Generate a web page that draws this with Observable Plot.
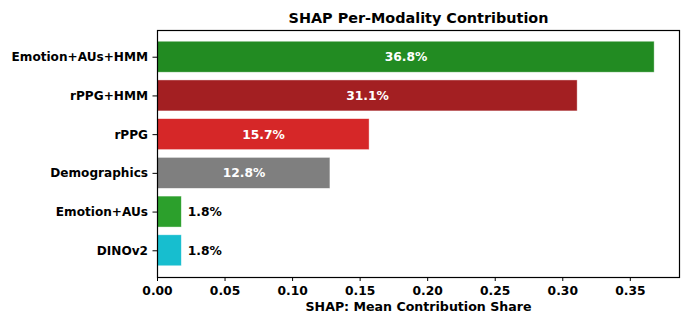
<!DOCTYPE html>
<html>
<head>
<meta charset="utf-8">
<script src="https://cdn.jsdelivr.net/npm/d3@7"></script>
<script src="https://cdn.jsdelivr.net/npm/@observablehq/plot@0.6"></script>
<style>
  html, body { margin: 0; padding: 0; background: #fff; }
  svg { font-family: "DejaVu Sans", sans-serif; }
</style>
</head>
<body>
<div id="chart"></div>
<script>
const modalities = ["Emotion+AUs+HMM", "rPPG+HMM", "rPPG", "Demographics", "Emotion+AUs", "DINOv2"];
const shares = [0.368, 0.311, 0.157, 0.128, 0.018, 0.018];
const colors = ["#228b22", "#a31f22", "#d62728", "#7f7f7f", "#2ca02c", "#17becf"];
const xTicks = [0, 0.05, 0.10, 0.15, 0.20, 0.25, 0.30, 0.35];
const title = "SHAP Per-Modality Contribution";
const xLabel = "SHAP: Mean Contribution Share";

const data = modalities.map((m, i) => ({modality: m, share: shares[i], color: colors[i]}));
const inside = data.filter(d => d.share >= 0.05);
const outside = data.filter(d => d.share < 0.05);

const chart = Plot.plot({
  width: 691,
  height: 328,
  marginLeft: 157,
  marginRight: 12,
  marginTop: 30,
  marginBottom: 51,
  style: {fontFamily: "DejaVu Sans, sans-serif", fontWeight: "bold", fontSize: "12.2px", background: "white", color: "black"},
  x: {domain: [0, 0.3864], ticks: xTicks, tickFormat: d3.format(".2f")},
  y: {domain: modalities, paddingInner: 0.2, paddingOuter: 0.29, round: false},
  marks: [
    Plot.barX(data, {y: "modality", x: "share", fill: "color", stroke: "white", strokeWidth: 0.7, strokeOpacity: 0.6}),
    Plot.text(inside, {y: "modality", x: d => d.share / 2, text: d => (d.share * 100).toFixed(1) + "%", fill: "white", fontWeight: "bold", fontSize: 12.3}),
    Plot.text(outside, {y: "modality", x: "share", text: d => (d.share * 100).toFixed(1) + "%", fill: "black", fontWeight: "bold", fontSize: 12.3, textAnchor: "start", dx: 6}),
    Plot.frame({stroke: "black", strokeWidth: 1.2}),
    Plot.axisY({tickSize: 4.5, tickPadding: 5, label: null, fontWeight: "bold", fontSize: 12.1}),
    Plot.axisX({tickSize: 4, tickPadding: 5, label: null, fontWeight: "bold", fontSize: 12.3}),
    Plot.text([xLabel], {frameAnchor: "bottom", lineAnchor: "middle", dy: 29.5, fontWeight: "bold", fontSize: 12.6}),
    Plot.text([title], {frameAnchor: "top", lineAnchor: "middle", dy: -12, fontWeight: "bold", fontSize: 14.4})
  ]
});
document.getElementById("chart").appendChild(chart);
</script>
</body>
</html>
